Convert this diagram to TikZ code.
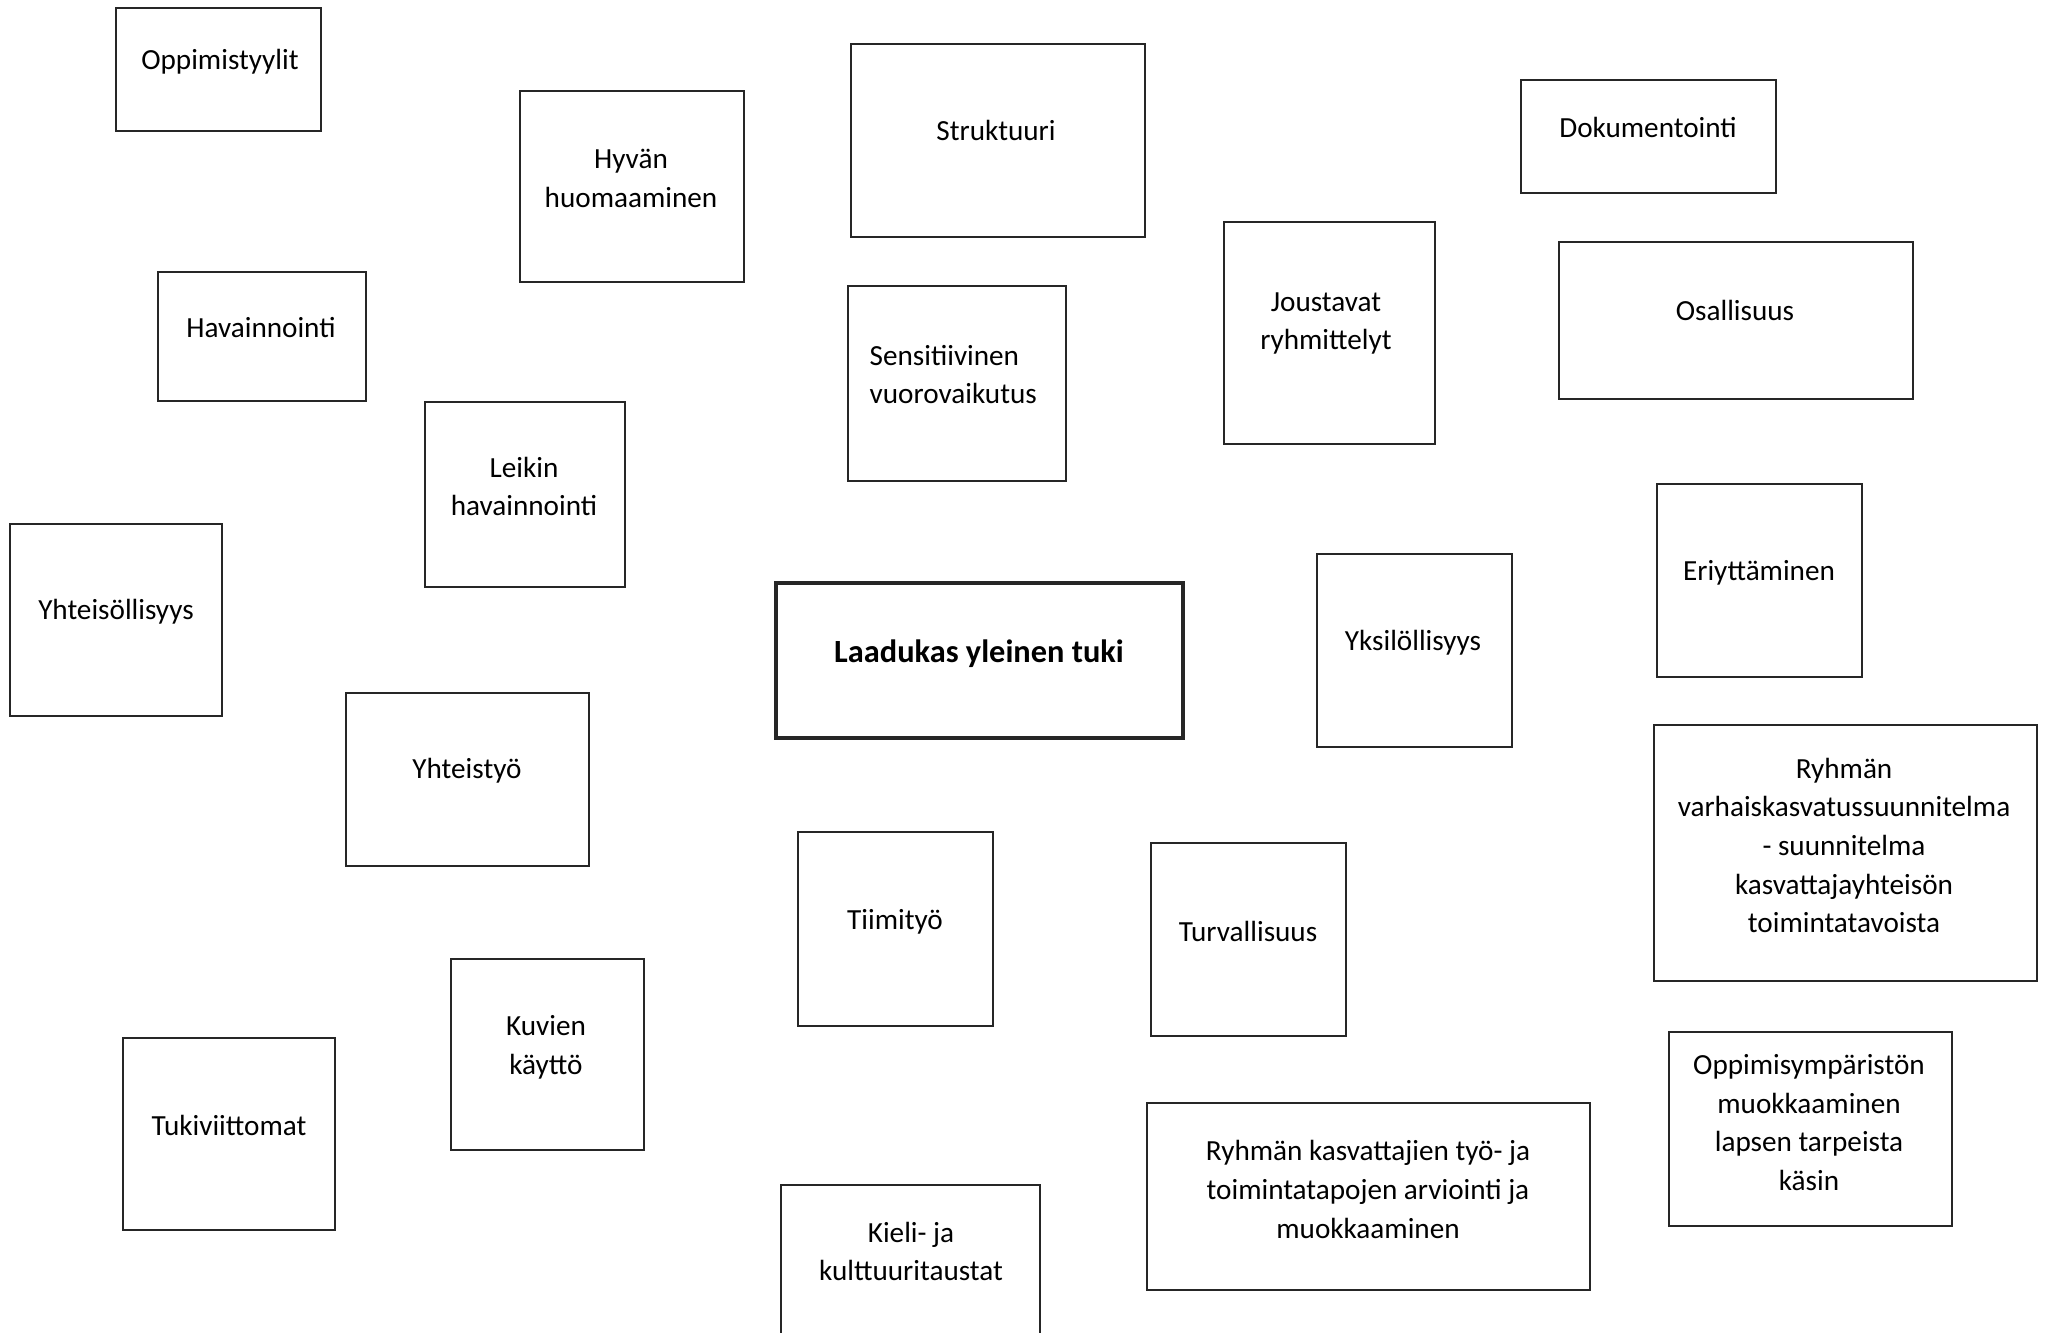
\documentclass[tikz,border=0pt]{standalone}
\usepackage{fontspec}
\setmainfont{Carlito}
\begin{document}
\begin{tikzpicture}[x=0.01cm,y=-0.01cm,
   laatikko/.style={draw=black!85,line width=0.8pt},
   teksti/.style={align=center,text=black,font=\fontsize{8.3}{11}\selectfont,inner sep=0pt,yshift=-0.025cm}]
   \useasboundingbox (0,0) rectangle (2049,1332);

   % laatikot
   \draw[laatikko] (116,8) rectangle (321,131);
   \draw[laatikko] (520,91) rectangle (744,282);
   \draw[laatikko] (851,44) rectangle (1145,237);
   \draw[laatikko] (1521,80) rectangle (1776,193);
   \draw[laatikko] (158,272) rectangle (366,401);
   \draw[laatikko] (848,286) rectangle (1066,481);
   \draw[laatikko] (1224,222) rectangle (1435,444);
   \draw[laatikko] (1559,242) rectangle (1913,399);
   \draw[laatikko] (425,402) rectangle (625,587);
   \draw[laatikko] (10,524) rectangle (222,716);
   \draw[laatikko] (1657,484) rectangle (1862,677);
   \draw[laatikko,line width=1.2pt] (776,583) rectangle (1183,738);
   \draw[laatikko] (1317,554) rectangle (1512,747);
   \draw[laatikko] (346,693) rectangle (589,866);
   \draw[laatikko] (1654,725) rectangle (2037,981);
   \draw[laatikko] (798,832) rectangle (993,1026);
   \draw[laatikko] (1151,843) rectangle (1346,1036);
   \draw[laatikko] (451,959) rectangle (644,1150);
   \draw[laatikko] (123,1038) rectangle (335,1230);
   \draw[laatikko] (1669,1032) rectangle (1952,1226);
   \draw[laatikko] (1147,1103) rectangle (1590,1290);
   \draw[laatikko] (781,1340) |- (1040,1185) -- (1040,1340);

   % tekstit
   \node[teksti] (oppimistyylit) at (220,59) {Oppimistyylit};
   \node[teksti] (hyvan) at (631,176) {Hyvän\\huomaaminen};
   \node[teksti] (struktuuri) at (996,128) {Struktuuri};
   \node[teksti] (dokumentointi) at (1648,125) {Dokumentointi};
   \node[teksti] (havainnointi) at (261,325) {Havainnointi};
   \node[teksti,align=left,anchor=west] (sensitiivinen) at (869,372) {Sensitiivinen\\vuorovaikutus};
   \node[teksti] (joustavat) at (1326,321) {Joustavat\\ryhmittelyt};
   \node[teksti] (osallisuus) at (1735,308) {Osallisuus};
   \node[teksti] (leikin) at (524,484) {Leikin\\havainnointi};
   \node[teksti] (yhteisollisyys) at (116,609) {Yhteisöllisyys};
   \node[teksti] (eriyttaminen) at (1759,570) {Eriyttäminen};
   \node[teksti,font=\fontsize{9.2}{12}\selectfont\bfseries] (tuki) at (979,651) {Laadukas yleinen tuki};
   \node[teksti] (yksilollisyys) at (1413,640) {Yksilöllisyys};
   \node[teksti] (yhteistyo) at (467,768) {Yhteistyö};
   \node[teksti] (vasu) at (1844,843) {Ryhmän\\varhaiskasvatussuunnitelma\\- suunnitelma\\kasvattajayhteisön\\toimintatavoista};
   \node[teksti] (tiimityo) at (895,919) {Tiimityö};
   \node[teksti] (turvallisuus) at (1248,929) {Turvallisuus};
   \node[teksti] (kuvien) at (546,1045) {Kuvien\\käyttö};
   \node[teksti] (tukiviittomat) at (229,1123) {Tukiviittomat};
   \node[teksti] (ymparisto) at (1809,1120) {Oppimisympäristön\\muokkaaminen\\lapsen tarpeista\\käsin};
   \node[teksti] (arviointi) at (1368,1187) {Ryhmän kasvattajien työ- ja\\toimintatapojen arviointi ja\\muokkaaminen};
   \node[teksti] (kieli) at (911,1249) {Kieli- ja\\kulttuuritaustat};
\end{tikzpicture}
\end{document}
